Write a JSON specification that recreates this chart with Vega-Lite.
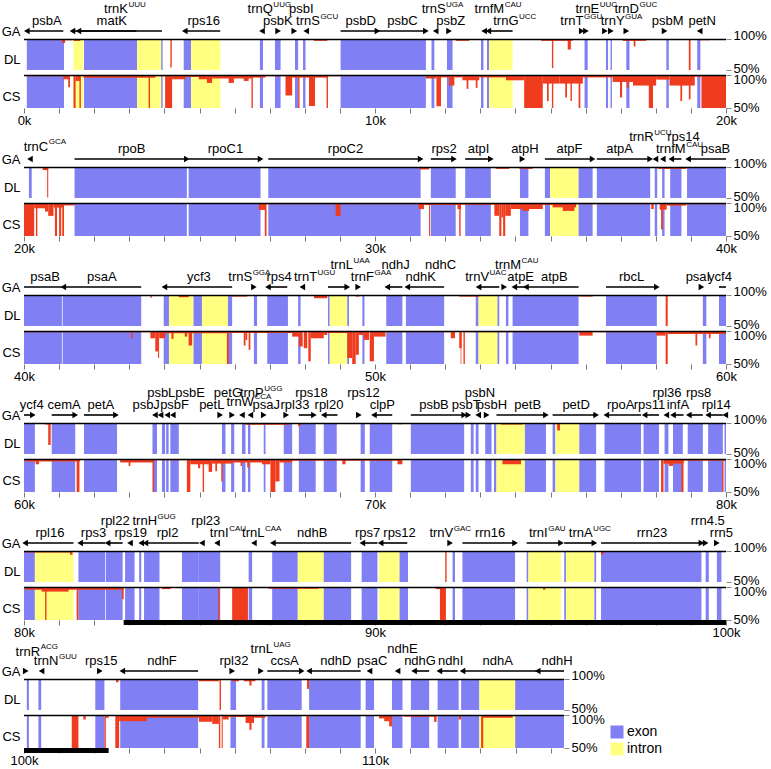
{
"$schema":"https://vega.github.io/schema/vega-lite/v6.json",
"padding":{"left":1,"top":0,"right":0,"bottom":0},
"bounds":"flush","spacing":0,
"resolve":{"scale":{"x":"independent","y":"independent"}},
"config":{"font":"Liberation Sans","view":{"stroke":null},"axis":{"labelColor":"#000","titleColor":"#000","titleFontSize":13,"titleFontWeight":"normal","labelFont":"Liberation Sans","titleFont":"Liberation Sans"},"text":{"color":"#000"},"legend":{"labelColor":"#000"}},
"datasets":{
"trk":[{"r":1,"s":0,"e":20},{"r":2,"s":20,"e":40},{"r":3,"s":40,"e":60},{"r":4,"s":60,"e":80},{"r":5,"s":80,"e":100},{"r":6,"s":100,"e":115.38}],
"ir":[{"r":5,"s":82.84,"e":100},{"r":6,"s":100,"e":102.41}],
"blk":[
{"r":1,"s":0.08,"e":1.14,"t":"exon"},{"r":1,"s":1.41,"e":1.69,"t":"intron"},{"r":1,"s":1.71,"e":3.22,"t":"exon"},{"r":1,"s":3.22,"e":3.91,"t":"intron"},{"r":1,"s":3.91,"e":3.95,"t":"exon"},{"r":1,"s":4.55,"e":4.76,"t":"exon"},{"r":1,"s":4.76,"e":5.59,"t":"intron"},{"r":1,"s":6.72,"e":6.81,"t":"exon"},{"r":1,"s":7.15,"e":7.31,"t":"exon"},{"r":1,"s":7.72,"e":7.81,"t":"exon"},{"r":1,"s":7.95,"e":8.02,"t":"exon"},{"r":1,"s":9.02,"e":11.45,"t":"exon"},{"r":1,"s":11.61,"e":11.69,"t":"exon"},{"r":1,"s":12.05,"e":12.21,"t":"exon"},{"r":1,"s":13.02,"e":13.09,"t":"exon"},{"r":1,"s":13.19,"e":13.25,"t":"exon"},{"r":1,"s":13.25,"e":13.92,"t":"intron"},{"r":1,"s":15.97,"e":16.06,"t":"exon"},{"r":1,"s":16.58,"e":16.64,"t":"exon"},{"r":1,"s":16.71,"e":16.75,"t":"exon"},{"r":1,"s":17.16,"e":17.25,"t":"exon"},{"r":1,"s":18.3,"e":18.37,"t":"exon"},{"r":1,"s":19.18,"e":19.27,"t":"exon"},
{"r":2,"s":20.14,"e":20.22,"t":"exon"},{"r":2,"s":21.44,"e":24.64,"t":"exon"},{"r":2,"s":24.69,"e":26.74,"t":"exon"},{"r":2,"s":26.96,"e":31.3,"t":"exon"},{"r":2,"s":31.59,"e":32.3,"t":"exon"},{"r":2,"s":32.57,"e":33.3,"t":"exon"},{"r":2,"s":34.13,"e":34.37,"t":"exon"},{"r":2,"s":34.84,"e":34.99,"t":"exon"},{"r":2,"s":34.99,"e":35.8,"t":"intron"},{"r":2,"s":35.8,"e":36.2,"t":"exon"},{"r":2,"s":36.32,"e":37.84,"t":"exon"},{"r":2,"s":37.97,"e":38.04,"t":"exon"},{"r":2,"s":38.18,"e":38.25,"t":"exon"},{"r":2,"s":38.41,"e":38.73,"t":"exon"},{"r":2,"s":38.89,"e":40,"t":"exon"},
{"r":3,"s":40,"e":41.08,"t":"exon"},{"r":3,"s":41.1,"e":43.34,"t":"exon"},{"r":3,"s":43.98,"e":44.13,"t":"exon"},{"r":3,"s":44.13,"e":44.83,"t":"intron"},{"r":3,"s":44.83,"e":45.07,"t":"exon"},{"r":3,"s":45.07,"e":45.81,"t":"intron"},{"r":3,"s":45.81,"e":45.93,"t":"exon"},{"r":3,"s":46.55,"e":46.64,"t":"exon"},{"r":3,"s":46.93,"e":47.52,"t":"exon"},{"r":3,"s":47.81,"e":47.88,"t":"exon"},{"r":3,"s":48.66,"e":48.71,"t":"exon"},{"r":3,"s":48.71,"e":49.21,"t":"intron"},{"r":3,"s":49.21,"e":49.26,"t":"exon"},{"r":3,"s":49.64,"e":49.7,"t":"exon"},{"r":3,"s":50.32,"e":50.78,"t":"exon"},{"r":3,"s":50.88,"e":51.97,"t":"exon"},{"r":3,"s":52.87,"e":52.95,"t":"exon"},{"r":3,"s":52.95,"e":53.49,"t":"intron"},{"r":3,"s":53.49,"e":53.54,"t":"exon"},{"r":3,"s":53.73,"e":53.8,"t":"exon"},{"r":3,"s":53.92,"e":55.8,"t":"exon"},{"r":3,"s":56.58,"e":58.03,"t":"exon"},{"r":3,"s":59.34,"e":59.44,"t":"exon"},{"r":3,"s":59.8,"e":60,"t":"exon"},
{"r":4,"s":60,"e":60.31,"t":"exon"},{"r":4,"s":60.79,"e":61.46,"t":"exon"},{"r":4,"s":61.71,"e":62.65,"t":"exon"},{"r":4,"s":63.66,"e":63.79,"t":"exon"},{"r":4,"s":63.93,"e":64.02,"t":"exon"},{"r":4,"s":64.05,"e":64.12,"t":"exon"},{"r":4,"s":64.17,"e":64.41,"t":"exon"},{"r":4,"s":65.64,"e":65.74,"t":"exon"},{"r":4,"s":65.9,"e":65.99,"t":"exon"},{"r":4,"s":66.21,"e":66.31,"t":"exon"},{"r":4,"s":66.38,"e":66.45,"t":"exon"},{"r":4,"s":66.83,"e":66.88,"t":"exon"},{"r":4,"s":67.4,"e":67.64,"t":"exon"},{"r":4,"s":67.83,"e":68.31,"t":"exon"},{"r":4,"s":68.54,"e":68.91,"t":"exon"},{"r":4,"s":69.59,"e":69.71,"t":"exon"},{"r":4,"s":69.85,"e":70.49,"t":"exon"},{"r":4,"s":71.02,"e":72.54,"t":"exon"},{"r":4,"s":72.73,"e":72.81,"t":"exon"},{"r":4,"s":72.87,"e":72.95,"t":"exon"},{"r":4,"s":73.14,"e":73.32,"t":"exon"},{"r":4,"s":73.39,"e":73.46,"t":"exon"},{"r":4,"s":73.46,"e":74.27,"t":"intron"},{"r":4,"s":74.27,"e":74.87,"t":"exon"},{"r":4,"s":75.06,"e":75.14,"t":"exon"},{"r":4,"s":75.14,"e":75.82,"t":"intron"},{"r":4,"s":75.82,"e":76.3,"t":"exon"},{"r":4,"s":76.54,"e":77.58,"t":"exon"},{"r":4,"s":77.65,"e":78.09,"t":"exon"},{"r":4,"s":78.25,"e":78.36,"t":"exon"},{"r":4,"s":78.49,"e":78.77,"t":"exon"},{"r":4,"s":78.91,"e":79.34,"t":"exon"},{"r":4,"s":79.49,"e":79.91,"t":"exon"},{"r":4,"s":79.96,"e":80,"t":"exon"},
{"r":5,"s":80,"e":80.31,"t":"exon"},{"r":5,"s":80.31,"e":81.41,"t":"intron"},{"r":5,"s":81.55,"e":82.31,"t":"exon"},{"r":5,"s":82.33,"e":82.81,"t":"exon"},{"r":5,"s":82.88,"e":83.15,"t":"exon"},{"r":5,"s":83.28,"e":83.34,"t":"exon"},{"r":5,"s":83.42,"e":83.86,"t":"exon"},{"r":5,"s":84.5,"e":84.98,"t":"exon"},{"r":5,"s":84.98,"e":85.59,"t":"exon"},{"r":5,"s":86.4,"e":86.5,"t":"exon"},{"r":5,"s":87.07,"e":87.8,"t":"exon"},{"r":5,"s":87.8,"e":88.54,"t":"intron"},{"r":5,"s":88.54,"e":89.32,"t":"exon"},{"r":5,"s":89.62,"e":90.07,"t":"exon"},{"r":5,"s":90.11,"e":90.7,"t":"intron"},{"r":5,"s":90.7,"e":90.94,"t":"exon"},{"r":5,"s":92.21,"e":92.28,"t":"exon"},{"r":5,"s":92.49,"e":93.99,"t":"exon"},{"r":5,"s":94.32,"e":94.37,"t":"exon"},{"r":5,"s":94.37,"e":95.3,"t":"intron"},{"r":5,"s":95.39,"e":95.44,"t":"exon"},{"r":5,"s":95.44,"e":96.25,"t":"intron"},{"r":5,"s":96.25,"e":96.3,"t":"exon"},{"r":5,"s":96.44,"e":99.3,"t":"exon"},{"r":5,"s":99.42,"e":99.51,"t":"exon"},{"r":5,"s":99.74,"e":99.87,"t":"exon"},
{"r":6,"s":100.08,"e":100.14,"t":"exon"},{"r":6,"s":100.41,"e":100.49,"t":"exon"},{"r":6,"s":102.03,"e":102.29,"t":"exon"},{"r":6,"s":102.74,"e":104.96,"t":"exon"},{"r":6,"s":105.88,"e":106.04,"t":"exon"},{"r":6,"s":106.77,"e":106.85,"t":"exon"},{"r":6,"s":106.93,"e":107.91,"t":"exon"},{"r":6,"s":108.12,"e":109.59,"t":"exon"},{"r":6,"s":109.73,"e":109.97,"t":"exon"},{"r":6,"s":110.48,"e":110.78,"t":"exon"},{"r":6,"s":111.02,"e":111.54,"t":"exon"},{"r":6,"s":111.78,"e":112.38,"t":"exon"},{"r":6,"s":112.45,"e":112.97,"t":"exon"},{"r":6,"s":112.97,"e":113.99,"t":"intron"},{"r":6,"s":113.99,"e":115.38,"t":"exon"}
],
"red":[
{"r":1,"k":"DL","s":1.08,"e":1.17,"v":93.6},{"r":1,"k":"DL","s":1.17,"e":1.36,"v":98},{"r":1,"k":"DL","s":1.41,"e":1.6,"v":97},{"r":1,"k":"DL","s":4.17,"e":4.21,"v":54},{"r":1,"k":"DL","s":8.26,"e":8.64,"v":97},{"r":1,"k":"DL","s":12.3,"e":12.68,"v":97},{"r":1,"k":"DL","s":14.73,"e":15.63,"v":97},{"r":1,"k":"DL","s":15.04,"e":15.08,"v":53},{"r":1,"k":"DL","s":15.49,"e":15.58,"v":83},{"r":1,"k":"DL","s":17.06,"e":17.73,"v":97},{"r":1,"k":"DL","s":17.37,"e":17.42,"v":88},{"r":1,"k":"DL","s":18.94,"e":18.99,"v":50},{"r":1,"k":"DL","s":19.25,"e":19.53,"v":98},
{"r":1,"k":"CS","s":0.03,"e":1.12,"v":98},{"r":1,"k":"CS","s":1.12,"e":1.31,"v":93.5},{"r":1,"k":"CS","s":1.26,"e":1.31,"v":81.5},{"r":1,"k":"CS","s":1.41,"e":1.47,"v":50},{"r":1,"k":"CS","s":1.47,"e":1.6,"v":91},{"r":1,"k":"CS","s":1.58,"e":1.62,"v":50},{"r":1,"k":"CS","s":1.69,"e":3.74,"v":96},{"r":1,"k":"CS","s":3.55,"e":3.59,"v":50},{"r":1,"k":"CS","s":3.74,"e":4.02,"v":98},{"r":1,"k":"CS","s":4.02,"e":4.22,"v":50},{"r":1,"k":"CS","s":4.22,"e":4.6,"v":93.5},{"r":1,"k":"CS","s":4.6,"e":4.98,"v":97},{"r":1,"k":"CS","s":4.98,"e":5.21,"v":93.5},{"r":1,"k":"CS","s":5.21,"e":5.36,"v":88},{"r":1,"k":"CS","s":5.36,"e":6.5,"v":94.6},{"r":1,"k":"CS","s":5.83,"e":5.98,"v":88},{"r":1,"k":"CS","s":6.26,"e":6.4,"v":91},{"r":1,"k":"CS","s":6.48,"e":6.52,"v":50},{"r":1,"k":"CS","s":6.5,"e":6.88,"v":96},{"r":1,"k":"CS","s":6.88,"e":7.45,"v":98},{"r":1,"k":"CS","s":7.45,"e":7.64,"v":69},{"r":1,"k":"CS","s":7.64,"e":8.12,"v":96},{"r":1,"k":"CS","s":7.81,"e":7.85,"v":50},{"r":1,"k":"CS","s":8.12,"e":8.29,"v":53},{"r":1,"k":"CS","s":8.29,"e":8.64,"v":96},{"r":1,"k":"CS","s":8.62,"e":8.66,"v":50},{"r":1,"k":"CS","s":8.64,"e":9.02,"v":98},{"r":1,"k":"CS","s":9.02,"e":11.45,"v":99},{"r":1,"k":"CS","s":11.45,"e":11.75,"v":94.7},{"r":1,"k":"CS","s":11.75,"e":11.88,"v":52.6},{"r":1,"k":"CS","s":11.88,"e":12.11,"v":96.3},{"r":1,"k":"CS","s":12.11,"e":12.26,"v":84},{"r":1,"k":"CS","s":12.26,"e":12.49,"v":96.3},{"r":1,"k":"CS","s":12.49,"e":12.97,"v":92},{"r":1,"k":"CS","s":12.61,"e":12.66,"v":79},{"r":1,"k":"CS","s":12.87,"e":12.92,"v":80.5},{"r":1,"k":"CS","s":12.97,"e":13.73,"v":96.3},{"r":1,"k":"CS","s":13.73,"e":14.25,"v":92},{"r":1,"k":"CS","s":14.25,"e":14.78,"v":50},{"r":1,"k":"CS","s":14.78,"e":15.25,"v":87},{"r":1,"k":"CS","s":14.9,"e":14.95,"v":60.5},{"r":1,"k":"CS","s":15.04,"e":15.08,"v":50},{"r":1,"k":"CS","s":15.25,"e":15.92,"v":87},{"r":1,"k":"CS","s":15.42,"e":15.47,"v":66},{"r":1,"k":"CS","s":15.57,"e":15.61,"v":60.5},{"r":1,"k":"CS","s":15.8,"e":15.85,"v":50},{"r":1,"k":"CS","s":15.92,"e":16.77,"v":96.3},{"r":1,"k":"CS","s":16.77,"e":17.35,"v":89.5},{"r":1,"k":"CS","s":16.98,"e":17.04,"v":66},{"r":1,"k":"CS","s":17.17,"e":17.23,"v":80.5},{"r":1,"k":"CS","s":17.35,"e":18.01,"v":84},{"r":1,"k":"CS","s":17.8,"e":17.92,"v":50},{"r":1,"k":"CS","s":18.01,"e":18.39,"v":93},{"r":1,"k":"CS","s":18.39,"e":19.11,"v":84},{"r":1,"k":"CS","s":18.7,"e":18.75,"v":60.5},{"r":1,"k":"CS","s":18.94,"e":18.99,"v":63},{"r":1,"k":"CS","s":19.11,"e":19.3,"v":97.4},{"r":1,"k":"CS","s":19.3,"e":20,"v":50},
{"r":2,"k":"DL","s":20.53,"e":20.69,"v":95},{"r":2,"k":"DL","s":20.66,"e":20.69,"v":51},{"r":2,"k":"DL","s":31.26,"e":31.54,"v":96},{"r":2,"k":"DL","s":33.44,"e":33.82,"v":97},{"r":2,"k":"DL","s":34.11,"e":34.49,"v":97},{"r":2,"k":"DL","s":38.06,"e":38.87,"v":97},
{"r":2,"k":"CS","s":20,"e":20.29,"v":50},{"r":2,"k":"CS","s":20.29,"e":20.6,"v":92},{"r":2,"k":"CS","s":20.34,"e":20.38,"v":50},{"r":2,"k":"CS","s":20.6,"e":20.69,"v":87},{"r":2,"k":"CS","s":20.69,"e":20.84,"v":80.5},{"r":2,"k":"CS","s":20.84,"e":21.14,"v":93},{"r":2,"k":"CS","s":20.88,"e":20.94,"v":50},{"r":2,"k":"CS","s":21,"e":21.06,"v":50},{"r":2,"k":"CS","s":21.09,"e":21.14,"v":50},{"r":2,"k":"CS","s":21.14,"e":21.44,"v":96.3},{"r":2,"k":"CS","s":21.44,"e":26.69,"v":98.4},{"r":2,"k":"CS","s":26.69,"e":26.88,"v":89.5},{"r":2,"k":"CS","s":26.86,"e":26.91,"v":50},{"r":2,"k":"CS","s":26.88,"e":31.24,"v":98},{"r":2,"k":"CS","s":28.88,"e":29.02,"v":80.5},{"r":2,"k":"CS","s":31.24,"e":31.4,"v":90.8},{"r":2,"k":"CS","s":31.4,"e":32.35,"v":97},{"r":2,"k":"CS","s":31.54,"e":31.57,"v":50},{"r":2,"k":"CS","s":32.35,"e":32.45,"v":90.8},{"r":2,"k":"CS","s":32.4,"e":32.44,"v":50},{"r":2,"k":"CS","s":32.45,"e":33.4,"v":97.4},{"r":2,"k":"CS","s":33.4,"e":33.54,"v":80.6},{"r":2,"k":"CS","s":33.54,"e":33.6,"v":50},{"r":2,"k":"CS","s":33.6,"e":33.65,"v":78},{"r":2,"k":"CS","s":33.65,"e":33.71,"v":50},{"r":2,"k":"CS","s":33.71,"e":33.87,"v":80.6},{"r":2,"k":"CS","s":33.87,"e":34.78,"v":90.8},{"r":2,"k":"CS","s":34.2,"e":34.39,"v":88},{"r":2,"k":"CS","s":34.78,"e":35.06,"v":97},{"r":2,"k":"CS","s":35.06,"e":35.73,"v":93.4},{"r":2,"k":"CS","s":35.35,"e":35.68,"v":88},{"r":2,"k":"CS","s":35.73,"e":37.87,"v":98},{"r":2,"k":"CS","s":37.87,"e":37.94,"v":90.8},{"r":2,"k":"CS","s":38.11,"e":38.31,"v":89.8},{"r":2,"k":"CS","s":38.15,"e":38.2,"v":60},{"r":2,"k":"CS","s":38.31,"e":38.87,"v":96},{"r":2,"k":"CS","s":38.87,"e":40,"v":98},
{"r":3,"k":"DL","s":43.6,"e":43.64,"v":95.4},{"r":3,"k":"DL","s":44.41,"e":44.69,"v":96.4},{"r":3,"k":"DL","s":45.93,"e":46.36,"v":97.4},{"r":3,"k":"DL","s":48.26,"e":48.64,"v":94.8},{"r":3,"k":"DL","s":49.45,"e":49.56,"v":97.4},{"r":3,"k":"DL","s":52.4,"e":52.97,"v":97.4},{"r":3,"k":"DL","s":55.82,"e":56.2,"v":97.4},{"r":3,"k":"DL","s":58.28,"e":58.34,"v":50},
{"r":3,"k":"CS","s":40,"e":43.6,"v":98},{"r":3,"k":"CS","s":43.05,"e":43.09,"v":89},{"r":3,"k":"CS","s":43.6,"e":43.74,"v":89},{"r":3,"k":"CS","s":43.74,"e":43.82,"v":69},{"r":3,"k":"CS","s":43.82,"e":43.85,"v":59},{"r":3,"k":"CS","s":43.85,"e":44.02,"v":89},{"r":3,"k":"CS","s":44.02,"e":45.78,"v":96.5},{"r":3,"k":"CS","s":44.2,"e":44.26,"v":88},{"r":3,"k":"CS","s":44.58,"e":44.65,"v":91.5},{"r":3,"k":"CS","s":44.69,"e":44.79,"v":78},{"r":3,"k":"CS","s":45.78,"e":45.83,"v":50},{"r":3,"k":"CS","s":45.83,"e":47.64,"v":97},{"r":3,"k":"CS","s":46.26,"e":46.31,"v":78},{"r":3,"k":"CS","s":46.31,"e":46.36,"v":86.5},{"r":3,"k":"CS","s":46.4,"e":46.45,"v":71.5},{"r":3,"k":"CS","s":47.64,"e":47.83,"v":91.5},{"r":3,"k":"CS","s":47.83,"e":47.94,"v":76.5},{"r":3,"k":"CS","s":47.97,"e":48.07,"v":74},{"r":3,"k":"CS","s":48.1,"e":48.17,"v":54},{"r":3,"k":"CS","s":48.17,"e":48.54,"v":89},{"r":3,"k":"CS","s":48.54,"e":48.64,"v":94},{"r":3,"k":"CS","s":48.64,"e":49.21,"v":97},{"r":3,"k":"CS","s":49.21,"e":49.35,"v":59},{"r":3,"k":"CS","s":49.35,"e":49.45,"v":50},{"r":3,"k":"CS","s":49.45,"e":49.54,"v":64},{"r":3,"k":"CS","s":49.54,"e":49.68,"v":94},{"r":3,"k":"CS","s":49.68,"e":49.83,"v":86.5},{"r":3,"k":"CS","s":49.85,"e":49.97,"v":54},{"r":3,"k":"CS","s":49.97,"e":50.3,"v":91.5},{"r":3,"k":"CS","s":50.3,"e":52.16,"v":98},{"r":3,"k":"CS","s":52.16,"e":52.28,"v":89},{"r":3,"k":"CS","s":52.4,"e":52.47,"v":74},{"r":3,"k":"CS","s":52.44,"e":52.46,"v":50},{"r":3,"k":"CS","s":52.52,"e":52.56,"v":50},{"r":3,"k":"CS","s":52.56,"e":55.82,"v":98},{"r":3,"k":"CS","s":55.82,"e":56.2,"v":93},{"r":3,"k":"CS","s":56.2,"e":58.01,"v":98},{"r":3,"k":"CS","s":58.01,"e":58.28,"v":93},{"r":3,"k":"CS","s":58.28,"e":58.34,"v":50},{"r":3,"k":"CS","s":58.34,"e":60,"v":95.5},{"r":3,"k":"CS","s":59.13,"e":59.18,"v":78},{"r":3,"k":"CS","s":59.51,"e":59.56,"v":89},
{"r":4,"k":"DL","s":60.6,"e":60.69,"v":97.5},{"r":4,"k":"DL","s":60.69,"e":60.76,"v":64.6},{"r":4,"k":"DL","s":66.31,"e":67.55,"v":97},{"r":4,"k":"DL","s":67.81,"e":67.88,"v":95},{"r":4,"k":"DL","s":70.64,"e":70.78,"v":98},{"r":4,"k":"DL","s":73.59,"e":74.2,"v":97.5},{"r":4,"k":"DL","s":75.19,"e":75.27,"v":88},
{"r":4,"k":"CS","s":60.03,"e":61.6,"v":96.3},{"r":4,"k":"CS","s":60.33,"e":60.43,"v":92},{"r":4,"k":"CS","s":61.5,"e":61.58,"v":50},{"r":4,"k":"CS","s":61.6,"e":62.74,"v":98.4},{"r":4,"k":"CS","s":62.74,"e":63.69,"v":94.7},{"r":4,"k":"CS","s":62.98,"e":63.03,"v":89.5},{"r":4,"k":"CS","s":63.67,"e":63.71,"v":50},{"r":4,"k":"CS","s":63.69,"e":64.64,"v":98},{"r":4,"k":"CS","s":64.64,"e":64.74,"v":50},{"r":4,"k":"CS","s":64.74,"e":65.36,"v":92},{"r":4,"k":"CS","s":64.96,"e":65.02,"v":86},{"r":4,"k":"CS","s":65.09,"e":65.13,"v":50},{"r":4,"k":"CS","s":65.26,"e":65.36,"v":80.5},{"r":4,"k":"CS","s":65.36,"e":65.93,"v":93},{"r":4,"k":"CS","s":65.45,"e":65.5,"v":81.6},{"r":4,"k":"CS","s":65.62,"e":65.66,"v":66},{"r":4,"k":"CS","s":65.93,"e":66.78,"v":94.7},{"r":4,"k":"CS","s":66.17,"e":66.21,"v":89.5},{"r":4,"k":"CS","s":66.36,"e":66.42,"v":87},{"r":4,"k":"CS","s":66.78,"e":67.02,"v":92},{"r":4,"k":"CS","s":67.02,"e":67.16,"v":50},{"r":4,"k":"CS","s":67.16,"e":67.28,"v":66},{"r":4,"k":"CS","s":67.28,"e":67.64,"v":94.7},{"r":4,"k":"CS","s":67.64,"e":70.64,"v":97.4},{"r":4,"k":"CS","s":69.07,"e":69.16,"v":92},{"r":4,"k":"CS","s":70.64,"e":70.78,"v":92},{"r":4,"k":"CS","s":70.78,"e":73.63,"v":98.4},{"r":4,"k":"CS","s":73.63,"e":74.16,"v":92},{"r":4,"k":"CS","s":74.16,"e":78.15,"v":98.4},{"r":4,"k":"CS","s":78.15,"e":78.22,"v":50},{"r":4,"k":"CS","s":78.22,"e":78.79,"v":93},{"r":4,"k":"CS","s":78.37,"e":78.49,"v":89.5},{"r":4,"k":"CS","s":78.73,"e":78.79,"v":50},{"r":4,"k":"CS","s":78.79,"e":80,"v":97.4},{"r":4,"k":"CS","s":79.89,"e":79.93,"v":50},
{"r":5,"k":"DL","s":80.03,"e":81.36,"v":97.4},{"r":5,"k":"DL","s":81.31,"e":81.38,"v":94},{"r":5,"k":"DL","s":92,"e":92.04,"v":50},{"r":5,"k":"DL","s":96.44,"e":96.51,"v":94},
{"r":5,"k":"CS","s":80.03,"e":82.84,"v":95.8},{"r":5,"k":"CS","s":80.5,"e":81.27,"v":93},{"r":5,"k":"CS","s":80.6,"e":80.64,"v":50},{"r":5,"k":"CS","s":81.5,"e":81.55,"v":50},{"r":5,"k":"CS","s":82.79,"e":82.84,"v":81.6},{"r":5,"k":"CS","s":83.93,"e":84.17,"v":96.8},{"r":5,"k":"CS","s":85.53,"e":85.57,"v":50},{"r":5,"k":"CS","s":85.93,"e":86.38,"v":50},{"r":5,"k":"CS","s":86.97,"e":88.4,"v":97.4},{"r":5,"k":"CS","s":91.73,"e":91.85,"v":96.8},{"r":5,"k":"CS","s":91.85,"e":92.02,"v":50},{"r":5,"k":"CS","s":94.79,"e":94.85,"v":95.8},
{"r":6,"k":"DL","s":102.62,"e":102.69,"v":94.7},{"r":6,"k":"DL","s":104.98,"e":105.55,"v":96.3},{"r":6,"k":"DL","s":105.57,"e":105.61,"v":50},{"r":6,"k":"DL","s":105.93,"e":106.12,"v":96.3},{"r":6,"k":"DL","s":106.26,"e":106.59,"v":96.3},{"r":6,"k":"DL","s":106.42,"e":106.48,"v":89.5},{"r":6,"k":"DL","s":108.06,"e":108.12,"v":84},{"r":6,"k":"DL","s":111.75,"e":112.4,"v":99},
{"r":6,"k":"CS","s":101.36,"e":101.55,"v":50},{"r":6,"k":"CS","s":101.69,"e":101.76,"v":93.2},{"r":6,"k":"CS","s":102.29,"e":102.33,"v":50},{"r":6,"k":"CS","s":102.33,"e":102.41,"v":95.8},{"r":6,"k":"CS","s":102.6,"e":102.71,"v":50},{"r":6,"k":"CS","s":102.71,"e":103.5,"v":90.6},{"r":6,"k":"CS","s":103.5,"e":104.98,"v":95.8},{"r":6,"k":"CS","s":104.98,"e":105.36,"v":89.6},{"r":6,"k":"CS","s":105.36,"e":105.55,"v":86.5},{"r":6,"k":"CS","s":105.55,"e":105.59,"v":50},{"r":6,"k":"CS","s":105.63,"e":105.66,"v":50},{"r":6,"k":"CS","s":105.66,"e":105.83,"v":93.2},{"r":6,"k":"CS","s":105.83,"e":106.31,"v":96.9},{"r":6,"k":"CS","s":106.31,"e":106.55,"v":88},{"r":6,"k":"CS","s":106.42,"e":106.48,"v":77.6},{"r":6,"k":"CS","s":106.55,"e":106.88,"v":95.8},{"r":6,"k":"CS","s":108.04,"e":108.12,"v":50},{"r":6,"k":"CS","s":110.11,"e":110.49,"v":94.8},{"r":6,"k":"CS","s":110.26,"e":110.4,"v":90.6},{"r":6,"k":"CS","s":110.4,"e":110.48,"v":82.8},{"r":6,"k":"CS","s":110.83,"e":111.73,"v":97.4},{"r":6,"k":"CS","s":111.68,"e":111.75,"v":89.6},{"r":6,"k":"CS","s":112.38,"e":112.45,"v":93.2},{"r":6,"k":"CS","s":113.02,"e":113.08,"v":50},{"r":6,"k":"CS","s":113.06,"e":113.92,"v":95.8},{"r":6,"k":"CS","s":113.92,"e":115.38,"v":98.4}
],
"arr":[
{"r":1,"s":0.08,"e":1.12,"d":"L"},{"r":1,"s":1.38,"e":3.93,"d":"L"},{"r":1,"s":1.55,"e":3.2,"d":"L"},{"r":1,"s":4.58,"e":5.59,"d":"L"},{"r":1,"s":6.78,"e":6.78,"d":"L"},{"r":1,"s":7.24,"e":7.24,"d":"R"},{"r":1,"s":7.7,"e":7.7,"d":"R"},{"r":1,"s":8.04,"e":8.04,"d":"L"},{"r":1,"s":9.02,"e":10.07,"d":"R"},{"r":1,"s":10.07,"e":11.45,"d":"R"},{"r":1,"s":11.73,"e":11.73,"d":"L"},{"r":1,"s":12.11,"e":12.11,"d":"R"},{"r":1,"s":13.11,"e":13.11,"d":"L"},{"r":1,"s":13.23,"e":13.92,"d":"L"},{"r":1,"s":15.89,"e":15.89,"d":"R"},{"r":1,"s":16.01,"e":16.01,"d":"R"},{"r":1,"s":16.55,"e":16.55,"d":"R"},{"r":1,"s":16.72,"e":16.72,"d":"R"},{"r":1,"s":17.16,"e":17.16,"d":"R"},{"r":1,"s":18.25,"e":18.25,"d":"R"},{"r":1,"s":19.25,"e":19.25,"d":"L"},
{"r":2,"s":20.17,"e":20.17,"d":"L"},{"r":2,"s":21.44,"e":24.64,"d":"R"},{"r":2,"s":24.69,"e":26.74,"d":"R"},{"r":2,"s":26.96,"e":31.3,"d":"R"},{"r":2,"s":31.59,"e":32.25,"d":"R"},{"r":2,"s":32.57,"e":33.3,"d":"R"},{"r":2,"s":34.2,"e":34.2,"d":"R"},{"r":2,"s":34.84,"e":36.2,"d":"R"},{"r":2,"s":36.32,"e":37.84,"d":"R"},{"r":2,"s":37.99,"e":37.99,"d":"L"},{"r":2,"s":38.2,"e":38.2,"d":"L"},{"r":2,"s":38.44,"e":38.73,"d":"L"},{"r":2,"s":38.92,"e":40,"d":"L"},
{"r":3,"s":40,"e":41.08,"d":"N"},{"r":3,"s":41.12,"e":43.34,"d":"L"},{"r":3,"s":44,"e":45.93,"d":"L"},{"r":3,"s":46.55,"e":46.55,"d":"R"},{"r":3,"s":46.95,"e":47.5,"d":"L"},{"r":3,"s":47.93,"e":47.93,"d":"L"},{"r":3,"s":48.66,"e":49.21,"d":"R"},{"r":3,"s":49.52,"e":49.52,"d":"R"},{"r":3,"s":50.35,"e":50.78,"d":"L"},{"r":3,"s":50.92,"e":51.97,"d":"L"},{"r":3,"s":52.95,"e":53.54,"d":"L"},{"r":3,"s":53.68,"e":53.68,"d":"R"},{"r":3,"s":53.97,"e":54.3,"d":"L"},{"r":3,"s":54.3,"e":55.8,"d":"L"},{"r":3,"s":56.58,"e":58.03,"d":"R"},{"r":3,"s":59.3,"e":59.3,"d":"R"},{"r":3,"s":59.8,"e":60,"d":"N"},
{"r":4,"s":60,"e":60.25,"d":"R"},{"r":4,"s":60.79,"e":61.46,"d":"R"},{"r":4,"s":61.71,"e":62.62,"d":"R"},{"r":4,"s":63.73,"e":63.73,"d":"L"},{"r":4,"s":63.89,"e":63.89,"d":"L"},{"r":4,"s":64.08,"e":64.08,"d":"L"},{"r":4,"s":64.24,"e":64.24,"d":"L"},{"r":4,"s":65.59,"e":65.59,"d":"R"},{"r":4,"s":65.93,"e":65.93,"d":"R"},{"r":4,"s":66.21,"e":66.21,"d":"L"},{"r":4,"s":66.45,"e":66.45,"d":"L"},{"r":4,"s":66.83,"e":66.83,"d":"R"},{"r":4,"s":67.47,"e":67.47,"d":"R"},{"r":4,"s":67.83,"e":68.26,"d":"R"},{"r":4,"s":68.54,"e":68.93,"d":"L"},{"r":4,"s":69.54,"e":69.54,"d":"R"},{"r":4,"s":69.97,"e":70.49,"d":"L"},{"r":4,"s":71.02,"e":72.54,"d":"R"},{"r":4,"s":72.66,"e":72.66,"d":"R"},{"r":4,"s":72.94,"e":72.94,"d":"L"},{"r":4,"s":73.18,"e":73.18,"d":"R"},{"r":4,"s":73.46,"e":74.87,"d":"R"},{"r":4,"s":75.06,"e":76.3,"d":"R"},{"r":4,"s":76.59,"e":77.58,"d":"L"},{"r":4,"s":77.68,"e":78.09,"d":"L"},{"r":4,"s":78.3,"e":78.3,"d":"L"},{"r":4,"s":78.49,"e":78.79,"d":"L"},{"r":4,"s":78.94,"e":79.34,"d":"L"},{"r":4,"s":79.49,"e":79.91,"d":"L"},{"r":4,"s":79.98,"e":79.98,"d":"L"},
{"r":5,"s":80.03,"e":81.41,"d":"L"},{"r":5,"s":81.6,"e":82.31,"d":"L"},{"r":5,"s":82.38,"e":82.81,"d":"L"},{"r":5,"s":83.02,"e":83.02,"d":"L"},{"r":5,"s":83.34,"e":83.34,"d":"L"},{"r":5,"s":83.46,"e":84.98,"d":"L"},{"r":5,"s":85.07,"e":85.07,"d":"L"},{"r":5,"s":85.5,"e":85.5,"d":"L"},{"r":5,"s":86.55,"e":86.55,"d":"L"},{"r":5,"s":87.09,"e":89.32,"d":"L"},{"r":5,"s":89.64,"e":90.07,"d":"L"},{"r":5,"s":90.16,"e":90.92,"d":"L"},{"r":5,"s":92.14,"e":92.14,"d":"R"},{"r":5,"s":92.49,"e":93.99,"d":"R"},{"r":5,"s":94.32,"e":95.3,"d":"R"},{"r":5,"s":95.39,"e":96.25,"d":"R"},{"r":5,"s":96.44,"e":99.3,"d":"R"},{"r":5,"s":99.42,"e":99.42,"d":"R"},{"r":5,"s":99.74,"e":99.74,"d":"R"},
{"r":6,"s":100.05,"e":100.05,"d":"R"},{"r":6,"s":100.5,"e":100.5,"d":"L"},{"r":6,"s":102.16,"e":102.16,"d":"R"},{"r":6,"s":102.8,"e":104.96,"d":"L"},{"r":6,"s":105.93,"e":105.93,"d":"R"},{"r":6,"s":106.75,"e":106.75,"d":"R"},{"r":6,"s":106.93,"e":107.91,"d":"R"},{"r":6,"s":108.12,"e":109.59,"d":"L"},{"r":6,"s":109.84,"e":109.84,"d":"L"},{"r":6,"s":110.64,"e":110.64,"d":"L"},{"r":6,"s":111.11,"e":111.54,"d":"L"},{"r":6,"s":111.83,"e":112.35,"d":"L"},{"r":6,"s":112.49,"e":114.63,"d":"L"},{"r":6,"s":114.63,"e":115.38,"d":"L"}
],
"lab":[
{"r":1,"n":"psbA","p":"","x":0.65,"t":1},{"r":1,"n":"trnK","p":"UUU","x":2.96,"t":2},{"r":1,"n":"matK","p":"","x":2.5,"t":1},{"r":1,"n":"rps16","p":"","x":5.12,"t":1},{"r":1,"n":"trnQ","p":"UUG","x":7.09,"t":2},{"r":1,"n":"psbK","p":"","x":7.23,"t":1},{"r":1,"n":"psbI","p":"","x":7.9,"t":2},{"r":1,"n":"trnS","p":"GCU","x":8.43,"t":1},{"r":1,"n":"psbD","p":"","x":9.59,"t":1},{"r":1,"n":"psbC","p":"","x":10.78,"t":1},{"r":1,"n":"trnS","p":"UGA","x":12.01,"t":2},{"r":1,"n":"psbZ","p":"","x":12.16,"t":1},{"r":1,"n":"trnfM","p":"CAU","x":13.68,"t":2},{"r":1,"n":"trnG","p":"UCC","x":14.09,"t":1},{"r":1,"n":"trnT","p":"GGU","x":15.94,"t":1},{"r":1,"n":"trnE","p":"UUC","x":16.39,"t":2},{"r":1,"n":"trnY","p":"GUA","x":17.11,"t":1},{"r":1,"n":"trnD","p":"GUC","x":17.52,"t":2},{"r":1,"n":"psbM","p":"","x":18.34,"t":1},{"r":1,"n":"petN","p":"","x":19.32,"t":1},
{"r":2,"n":"trnC","p":"GCA","x":20.69,"t":1.2},{"r":2,"n":"rpoB","p":"","x":23.07,"t":1},{"r":2,"n":"rpoC1","p":"","x":25.74,"t":1},{"r":2,"n":"rpoC2","p":"","x":29.16,"t":1},{"r":2,"n":"rps2","p":"","x":31.97,"t":1},{"r":2,"n":"atpI","p":"","x":32.95,"t":1},{"r":2,"n":"atpH","p":"","x":34.27,"t":1},{"r":2,"n":"atpF","p":"","x":35.54,"t":1},{"r":2,"n":"atpA","p":"","x":36.97,"t":1},{"r":2,"n":"trnR","p":"UCU","x":37.94,"t":2},{"r":2,"n":"trnfM","p":"CAU","x":38.85,"t":1},{"r":2,"n":"rps14","p":"","x":38.79,"t":2},{"r":2,"n":"psaB","p":"","x":39.7,"t":1},
{"r":3,"n":"psaB","p":"","x":40.6,"t":1},{"r":3,"n":"psaA","p":"","x":42.22,"t":1},{"r":3,"n":"ycf3","p":"","x":44.98,"t":1},{"r":3,"n":"trnS","p":"GGA","x":46.5,"t":1},{"r":3,"n":"rps4","p":"","x":47.27,"t":1},{"r":3,"n":"trnT","p":"UGU","x":48.35,"t":1},{"r":3,"n":"trnL","p":"UAA","x":49.37,"t":2},{"r":3,"n":"trnF","p":"GAA","x":49.97,"t":1},{"r":3,"n":"ndhJ","p":"","x":50.59,"t":2},{"r":3,"n":"ndhK","p":"","x":51.3,"t":1},{"r":3,"n":"ndhC","p":"","x":51.87,"t":2},{"r":3,"n":"trnV","p":"UAC","x":53.25,"t":1},{"r":3,"n":"trnM","p":"CAU","x":54.16,"t":2},{"r":3,"n":"atpE","p":"","x":54.15,"t":1},{"r":3,"n":"atpB","p":"","x":55.11,"t":1},{"r":3,"n":"rbcL","p":"","x":57.31,"t":1},{"r":3,"n":"psaI","p":"","x":59.2,"t":1},{"r":3,"n":"ycf4","p":"","x":59.83,"t":1},
{"r":4,"n":"ycf4","p":"","x":60.22,"t":1},{"r":4,"n":"cemA","p":"","x":61.14,"t":1},{"r":4,"n":"petA","p":"","x":62.19,"t":1},{"r":4,"n":"psbJ","p":"","x":63.48,"t":1},{"r":4,"n":"psbF","p":"","x":64.29,"t":1},{"r":4,"n":"psbL","p":"","x":63.91,"t":2},{"r":4,"n":"psbE","p":"","x":64.73,"t":2},{"r":4,"n":"petL","p":"","x":65.35,"t":1},{"r":4,"n":"petG","p":"","x":65.81,"t":2},{"r":4,"n":"trnW","p":"CCA","x":66.55,"t":1.3},{"r":4,"n":"trnP","p":"UGG","x":66.83,"t":2},{"r":4,"n":"psaJ","p":"","x":66.9,"t":1},{"r":4,"n":"rpl33","p":"","x":67.72,"t":1},{"r":4,"n":"rps18","p":"","x":68.19,"t":2},{"r":4,"n":"rpl20","p":"","x":68.69,"t":1},{"r":4,"n":"rps12","p":"","x":69.67,"t":2},{"r":4,"n":"clpP","p":"","x":70.21,"t":1},{"r":4,"n":"psbB","p":"","x":71.68,"t":1},{"r":4,"n":"psbT","p":"","x":72.6,"t":1},{"r":4,"n":"psbN","p":"","x":72.99,"t":2},{"r":4,"n":"psbH","p":"","x":73.33,"t":1},{"r":4,"n":"petB","p":"","x":74.35,"t":1},{"r":4,"n":"petD","p":"","x":75.73,"t":1},{"r":4,"n":"rpoA","p":"","x":77,"t":1},{"r":4,"n":"rps11","p":"","x":77.82,"t":1},{"r":4,"n":"rpl36","p":"","x":78.32,"t":2},{"r":4,"n":"infA","p":"","x":78.63,"t":1},{"r":4,"n":"rps8","p":"","x":79.22,"t":2},{"r":4,"n":"rpl14","p":"","x":79.72,"t":1},
{"r":5,"n":"rpl16","p":"","x":80.74,"t":1},{"r":5,"n":"rps3","p":"","x":81.98,"t":1},{"r":5,"n":"rpl22","p":"","x":82.6,"t":2},{"r":5,"n":"rps19","p":"","x":83.04,"t":1},{"r":5,"n":"trnH","p":"GUG","x":83.79,"t":2},{"r":5,"n":"rpl2","p":"","x":84.09,"t":1},{"r":5,"n":"rpl23","p":"","x":85.18,"t":2},{"r":5,"n":"trnI","p":"CAU","x":85.83,"t":1},{"r":5,"n":"trnL","p":"CAA","x":86.85,"t":1},{"r":5,"n":"ndhB","p":"","x":88.21,"t":1},{"r":5,"n":"rps7","p":"","x":89.79,"t":1},{"r":5,"n":"rps12","p":"","x":90.7,"t":1},{"r":5,"n":"trnV","p":"GAC","x":92.23,"t":1},{"r":5,"n":"rrn16","p":"","x":93.28,"t":1},{"r":5,"n":"trnI","p":"GAU","x":94.92,"t":1},{"r":5,"n":"trnA","p":"UGC","x":96.2,"t":1},{"r":5,"n":"rrn23","p":"","x":97.89,"t":1},{"r":5,"n":"rrn4.5","p":"","x":99.48,"t":2},{"r":5,"n":"rrn5","p":"","x":99.87,"t":1},
{"r":6,"n":"trnR","p":"ACG","x":100.46,"t":1.8},{"r":6,"n":"trnN","p":"GUU","x":100.98,"t":1},{"r":6,"n":"rps15","p":"","x":102.2,"t":1},{"r":6,"n":"ndhF","p":"","x":103.93,"t":1},{"r":6,"n":"rpl32","p":"","x":105.98,"t":1},{"r":6,"n":"trnL","p":"UAG","x":107.09,"t":2},{"r":6,"n":"ccsA","p":"","x":107.42,"t":1},{"r":6,"n":"ndhD","p":"","x":108.88,"t":1},{"r":6,"n":"psaC","p":"","x":109.92,"t":1},{"r":6,"n":"ndhE","p":"","x":110.78,"t":2},{"r":6,"n":"ndhG","p":"","x":111.28,"t":1},{"r":6,"n":"ndhI","p":"","x":112.15,"t":1},{"r":6,"n":"ndhA","p":"","x":113.49,"t":1},{"r":6,"n":"ndhH","p":"","x":115.18,"t":1}
]
},
"vconcat":[
{"width":702,"height":38,"layer":[
{"data":{"name":"arr"},"transform":[{"filter":"datum.r==1"}],"mark":{"type":"rule","strokeWidth":1.6,"color":"#000"},"encoding":{"x":{"field":"s","type":"quantitative","scale":{"domain":[0,20],"nice":false,"zero":false},"axis":null},"x2":{"field":"e"},"y":{"datum":0,"type":"quantitative","scale":{"domain":[-0.6667,2.5],"nice":false,"zero":false},"axis":{"orient":"left","title":"GA","titleAngle":0,"titleAlign":"right","titleBaseline":"middle","titleX":-4,"titleY":30,"labels":false,"ticks":false,"domain":false,"grid":false}}}},
{"data":{"name":"arr"},"transform":[{"filter":"datum.r==1 && datum.d=='L'"}],"mark":{"type":"point","shape":"triangle-left","filled":true,"color":"#000","size":42,"opacity":1},"encoding":{"x":{"field":"s","type":"quantitative","scale":{"domain":[0,20],"nice":false,"zero":false},"axis":null},"y":{"datum":0,"type":"quantitative","scale":{"domain":[-0.6667,2.5],"nice":false,"zero":false},"axis":null}}},
{"data":{"name":"arr"},"transform":[{"filter":"datum.r==1 && datum.d=='R'"}],"mark":{"type":"point","shape":"triangle-right","filled":true,"color":"#000","size":42,"opacity":1},"encoding":{"x":{"field":"e","type":"quantitative","scale":{"domain":[0,20],"nice":false,"zero":false},"axis":null},"y":{"datum":0,"type":"quantitative","scale":{"domain":[-0.6667,2.5],"nice":false,"zero":false},"axis":null}}},
{"data":{"name":"lab"},"transform":[{"filter":"datum.r==1 && datum.p==''"}],"mark":{"type":"text","fontSize":13,"dy":2.4},"encoding":{"x":{"field":"x","type":"quantitative","scale":{"domain":[0,20],"nice":false,"zero":false},"axis":null},"y":{"field":"t","type":"quantitative","scale":{"domain":[-0.6667,2.5],"nice":false,"zero":false},"axis":null},"text":{"field":"n"}}},
{"data":{"name":"lab"},"transform":[{"filter":"datum.r==1 && datum.p!=''"}],"mark":{"type":"text","fontSize":13,"dy":2.4,"align":"right"},"encoding":{"x":{"field":"x","type":"quantitative","scale":{"domain":[0,20],"nice":false,"zero":false},"axis":null},"y":{"field":"t","type":"quantitative","scale":{"domain":[-0.6667,2.5],"nice":false,"zero":false},"axis":null},"text":{"field":"n"}}},
{"data":{"name":"lab"},"transform":[{"filter":"datum.r==1 && datum.p!=''"}],"mark":{"type":"text","fontSize":8,"dy":-2.3,"dx":0.5,"align":"left"},"encoding":{"x":{"field":"x","type":"quantitative","scale":{"domain":[0,20],"nice":false,"zero":false},"axis":null},"y":{"field":"t","type":"quantitative","scale":{"domain":[-0.6667,2.5],"nice":false,"zero":false},"axis":null},"text":{"field":"p"}}}
],"resolve":{"axis":{"x":"independent","y":"independent"}}},
{"width":702,"height":31,"layer":[
{"data":{"name":"blk"},"transform":[{"filter":"datum.r==1"}],"mark":{"type":"rect"},"encoding":{"x":{"field":"s","type":"quantitative","scale":{"domain":[0,20],"nice":false,"zero":false},"axis":null},"x2":{"field":"e"},"y":{"datum":50,"type":"quantitative","scale":{"domain":[50,100],"nice":false,"zero":false},"axis":{"orient":"right","values":[50,100],"labelExpr":"datum.value + '%'","title":null,"domain":false,"grid":false,"tickSize":5,"tickColor":"#888","labelPadding":2,"labelFontSize":13,"labelBaseline":"alphabetic","labelOffset":{"condition":{"test":"datum.value == 50","value":2.5},"value":0.5}}},"y2":{"datum":100},"color":{"field":"t","type":"nominal","scale":{"domain":["exon","intron"],"range":["#8080f4","#ffff80"]},"title":null}}},
{"data":{"name":"red"},"transform":[{"filter":"datum.r==1 && datum.k=='DL'"}],"mark":{"type":"rect","color":"#f03c1e"},"encoding":{"x":{"field":"s","type":"quantitative","scale":{"domain":[0,20],"nice":false,"zero":false},"axis":null},"x2":{"field":"e"},"y":{"field":"v","type":"quantitative","scale":{"domain":[50,100],"nice":false,"zero":false},"axis":{"orient":"left","title":"DL","titleAngle":0,"titleAlign":"right","titleBaseline":"middle","titleX":-4,"titleY":20,"labels":false,"ticks":false,"domain":false,"grid":false}},"y2":{"datum":100}}},
{"data":{"name":"trk"},"transform":[{"filter":"datum.r==1"}],"mark":{"type":"rule","color":"#000","strokeWidth":1.5},"encoding":{"x":{"field":"s","type":"quantitative","scale":{"domain":[0,20],"nice":false,"zero":false},"axis":null},"x2":{"field":"e"},"y":{"datum":99.3,"type":"quantitative","scale":{"domain":[50,100],"nice":false,"zero":false},"axis":null}}}
],"resolve":{"axis":{"x":"independent","y":"independent"}}},
{"width":702,"height":38,"layer":[
{"data":{"name":"blk"},"transform":[{"filter":"datum.r==1"}],"mark":{"type":"rect"},"encoding":{"x":{"field":"s","type":"quantitative","scale":{"domain":[0,20],"nice":false,"zero":false},"axis":{"values":[0,1,2,3,4,5,6,7,8,9,10,11,12,13,14,15,16,17,18,19,20],"labelExpr":"datum.value % 10 == 0 ? datum.value + 'k' : ''","title":null,"domain":false,"grid":false,"tickSize":5,"tickColor":"#777","labelPadding":1,"labelFontSize":13,"labelOverlap":false,"labelFlush":false,"labelBound":false}},"x2":{"field":"e"},"y":{"datum":50,"type":"quantitative","scale":{"domain":[50,107.58],"nice":false,"zero":false},"axis":{"orient":"right","values":[50,100],"labelExpr":"datum.value + '%'","title":null,"domain":false,"grid":false,"tickSize":5,"tickColor":"#888","labelPadding":2,"labelFontSize":13,"labelBaseline":"middle","labelOffset":{"condition":{"test":"datum.value == 100","value":4.5},"value":-1}}},"y2":{"datum":100},"color":{"field":"t","type":"nominal","scale":{"domain":["exon","intron"],"range":["#8080f4","#ffff80"]},"title":null}}},
{"data":{"name":"red"},"transform":[{"filter":"datum.r==1 && datum.k=='CS'"}],"mark":{"type":"rect","color":"#f03c1e"},"encoding":{"x":{"field":"s","type":"quantitative","scale":{"domain":[0,20],"nice":false,"zero":false},"axis":null},"x2":{"field":"e"},"y":{"field":"v","type":"quantitative","scale":{"domain":[50,107.58],"nice":false,"zero":false},"axis":{"orient":"left","title":"CS","titleAngle":0,"titleAlign":"right","titleBaseline":"middle","titleX":-4,"titleY":26,"labels":false,"ticks":false,"domain":false,"grid":false}},"y2":{"datum":100}}},
{"data":{"name":"trk"},"transform":[{"filter":"datum.r==1"}],"mark":{"type":"rule","color":"#000","strokeWidth":1.5},"encoding":{"x":{"field":"s","type":"quantitative","scale":{"domain":[0,20],"nice":false,"zero":false},"axis":null},"x2":{"field":"e"},"y":{"datum":99.3,"type":"quantitative","scale":{"domain":[50,107.58],"nice":false,"zero":false},"axis":null}}}
],"resolve":{"axis":{"x":"independent","y":"independent"}}},

{"width":702,"height":59,"layer":[
{"data":{"name":"arr"},"transform":[{"filter":"datum.r==2"}],"mark":{"type":"rule","strokeWidth":1.6,"color":"#000"},"encoding":{"x":{"field":"s","type":"quantitative","scale":{"domain":[20,40],"nice":false,"zero":false},"axis":null},"x2":{"field":"e"},"y":{"datum":0,"type":"quantitative","scale":{"domain":[-0.6667,4.25],"nice":false,"zero":false},"axis":{"orient":"left","title":"GA","titleAngle":0,"titleAlign":"right","titleBaseline":"middle","titleX":-4,"titleY":51,"labels":false,"ticks":false,"domain":false,"grid":false}}}},
{"data":{"name":"arr"},"transform":[{"filter":"datum.r==2 && datum.d=='L'"}],"mark":{"type":"point","shape":"triangle-left","filled":true,"color":"#000","size":42,"opacity":1},"encoding":{"x":{"field":"s","type":"quantitative","scale":{"domain":[20,40],"nice":false,"zero":false},"axis":null},"y":{"datum":0,"type":"quantitative","scale":{"domain":[-0.6667,4.25],"nice":false,"zero":false},"axis":null}}},
{"data":{"name":"arr"},"transform":[{"filter":"datum.r==2 && datum.d=='R'"}],"mark":{"type":"point","shape":"triangle-right","filled":true,"color":"#000","size":42,"opacity":1},"encoding":{"x":{"field":"e","type":"quantitative","scale":{"domain":[20,40],"nice":false,"zero":false},"axis":null},"y":{"datum":0,"type":"quantitative","scale":{"domain":[-0.6667,4.25],"nice":false,"zero":false},"axis":null}}},
{"data":{"name":"lab"},"transform":[{"filter":"datum.r==2 && datum.p==''"}],"mark":{"type":"text","fontSize":13,"dy":2.4},"encoding":{"x":{"field":"x","type":"quantitative","scale":{"domain":[20,40],"nice":false,"zero":false},"axis":null},"y":{"field":"t","type":"quantitative","scale":{"domain":[-0.6667,4.25],"nice":false,"zero":false},"axis":null},"text":{"field":"n"}}},
{"data":{"name":"lab"},"transform":[{"filter":"datum.r==2 && datum.p!=''"}],"mark":{"type":"text","fontSize":13,"dy":2.4,"align":"right"},"encoding":{"x":{"field":"x","type":"quantitative","scale":{"domain":[20,40],"nice":false,"zero":false},"axis":null},"y":{"field":"t","type":"quantitative","scale":{"domain":[-0.6667,4.25],"nice":false,"zero":false},"axis":null},"text":{"field":"n"}}},
{"data":{"name":"lab"},"transform":[{"filter":"datum.r==2 && datum.p!=''"}],"mark":{"type":"text","fontSize":8,"dy":-2.3,"dx":0.5,"align":"left"},"encoding":{"x":{"field":"x","type":"quantitative","scale":{"domain":[20,40],"nice":false,"zero":false},"axis":null},"y":{"field":"t","type":"quantitative","scale":{"domain":[-0.6667,4.25],"nice":false,"zero":false},"axis":null},"text":{"field":"p"}}}
],"resolve":{"axis":{"x":"independent","y":"independent"}}},
{"width":702,"height":31,"layer":[
{"data":{"name":"blk"},"transform":[{"filter":"datum.r==2"}],"mark":{"type":"rect"},"encoding":{"x":{"field":"s","type":"quantitative","scale":{"domain":[20,40],"nice":false,"zero":false},"axis":null},"x2":{"field":"e"},"y":{"datum":50,"type":"quantitative","scale":{"domain":[50,100],"nice":false,"zero":false},"axis":{"orient":"right","values":[50,100],"labelExpr":"datum.value + '%'","title":null,"domain":false,"grid":false,"tickSize":5,"tickColor":"#888","labelPadding":2,"labelFontSize":13,"labelBaseline":"alphabetic","labelOffset":{"condition":{"test":"datum.value == 50","value":2.5},"value":0.5}}},"y2":{"datum":100},"color":{"field":"t","type":"nominal","scale":{"domain":["exon","intron"],"range":["#8080f4","#ffff80"]},"title":null}}},
{"data":{"name":"red"},"transform":[{"filter":"datum.r==2 && datum.k=='DL'"}],"mark":{"type":"rect","color":"#f03c1e"},"encoding":{"x":{"field":"s","type":"quantitative","scale":{"domain":[20,40],"nice":false,"zero":false},"axis":null},"x2":{"field":"e"},"y":{"field":"v","type":"quantitative","scale":{"domain":[50,100],"nice":false,"zero":false},"axis":{"orient":"left","title":"DL","titleAngle":0,"titleAlign":"right","titleBaseline":"middle","titleX":-4,"titleY":20,"labels":false,"ticks":false,"domain":false,"grid":false}},"y2":{"datum":100}}},
{"data":{"name":"trk"},"transform":[{"filter":"datum.r==2"}],"mark":{"type":"rule","color":"#000","strokeWidth":1.5},"encoding":{"x":{"field":"s","type":"quantitative","scale":{"domain":[20,40],"nice":false,"zero":false},"axis":null},"x2":{"field":"e"},"y":{"datum":99.3,"type":"quantitative","scale":{"domain":[50,100],"nice":false,"zero":false},"axis":null}}}
],"resolve":{"axis":{"x":"independent","y":"independent"}}},
{"width":702,"height":38,"layer":[
{"data":{"name":"blk"},"transform":[{"filter":"datum.r==2"}],"mark":{"type":"rect"},"encoding":{"x":{"field":"s","type":"quantitative","scale":{"domain":[20,40],"nice":false,"zero":false},"axis":{"values":[20,21,22,23,24,25,26,27,28,29,30,31,32,33,34,35,36,37,38,39,40],"labelExpr":"datum.value % 10 == 0 ? datum.value + 'k' : ''","title":null,"domain":false,"grid":false,"tickSize":5,"tickColor":"#777","labelPadding":1,"labelFontSize":13,"labelOverlap":false,"labelFlush":false,"labelBound":false}},"x2":{"field":"e"},"y":{"datum":50,"type":"quantitative","scale":{"domain":[50,107.58],"nice":false,"zero":false},"axis":{"orient":"right","values":[50,100],"labelExpr":"datum.value + '%'","title":null,"domain":false,"grid":false,"tickSize":5,"tickColor":"#888","labelPadding":2,"labelFontSize":13,"labelBaseline":"middle","labelOffset":{"condition":{"test":"datum.value == 100","value":4.5},"value":-1}}},"y2":{"datum":100},"color":{"field":"t","type":"nominal","scale":{"domain":["exon","intron"],"range":["#8080f4","#ffff80"]},"title":null}}},
{"data":{"name":"red"},"transform":[{"filter":"datum.r==2 && datum.k=='CS'"}],"mark":{"type":"rect","color":"#f03c1e"},"encoding":{"x":{"field":"s","type":"quantitative","scale":{"domain":[20,40],"nice":false,"zero":false},"axis":null},"x2":{"field":"e"},"y":{"field":"v","type":"quantitative","scale":{"domain":[50,107.58],"nice":false,"zero":false},"axis":{"orient":"left","title":"CS","titleAngle":0,"titleAlign":"right","titleBaseline":"middle","titleX":-4,"titleY":26,"labels":false,"ticks":false,"domain":false,"grid":false}},"y2":{"datum":100}}},
{"data":{"name":"trk"},"transform":[{"filter":"datum.r==2"}],"mark":{"type":"rule","color":"#000","strokeWidth":1.5},"encoding":{"x":{"field":"s","type":"quantitative","scale":{"domain":[20,40],"nice":false,"zero":false},"axis":null},"x2":{"field":"e"},"y":{"datum":99.3,"type":"quantitative","scale":{"domain":[50,107.58],"nice":false,"zero":false},"axis":null}}}
],"resolve":{"axis":{"x":"independent","y":"independent"}}},

{"width":702,"height":59,"layer":[
{"data":{"name":"arr"},"transform":[{"filter":"datum.r==3"}],"mark":{"type":"rule","strokeWidth":1.6,"color":"#000"},"encoding":{"x":{"field":"s","type":"quantitative","scale":{"domain":[40,60],"nice":false,"zero":false},"axis":null},"x2":{"field":"e"},"y":{"datum":0,"type":"quantitative","scale":{"domain":[-0.6667,4.25],"nice":false,"zero":false},"axis":{"orient":"left","title":"GA","titleAngle":0,"titleAlign":"right","titleBaseline":"middle","titleX":-4,"titleY":51,"labels":false,"ticks":false,"domain":false,"grid":false}}}},
{"data":{"name":"arr"},"transform":[{"filter":"datum.r==3 && datum.d=='L'"}],"mark":{"type":"point","shape":"triangle-left","filled":true,"color":"#000","size":42,"opacity":1},"encoding":{"x":{"field":"s","type":"quantitative","scale":{"domain":[40,60],"nice":false,"zero":false},"axis":null},"y":{"datum":0,"type":"quantitative","scale":{"domain":[-0.6667,4.25],"nice":false,"zero":false},"axis":null}}},
{"data":{"name":"arr"},"transform":[{"filter":"datum.r==3 && datum.d=='R'"}],"mark":{"type":"point","shape":"triangle-right","filled":true,"color":"#000","size":42,"opacity":1},"encoding":{"x":{"field":"e","type":"quantitative","scale":{"domain":[40,60],"nice":false,"zero":false},"axis":null},"y":{"datum":0,"type":"quantitative","scale":{"domain":[-0.6667,4.25],"nice":false,"zero":false},"axis":null}}},
{"data":{"name":"lab"},"transform":[{"filter":"datum.r==3 && datum.p==''"}],"mark":{"type":"text","fontSize":13,"dy":2.4},"encoding":{"x":{"field":"x","type":"quantitative","scale":{"domain":[40,60],"nice":false,"zero":false},"axis":null},"y":{"field":"t","type":"quantitative","scale":{"domain":[-0.6667,4.25],"nice":false,"zero":false},"axis":null},"text":{"field":"n"}}},
{"data":{"name":"lab"},"transform":[{"filter":"datum.r==3 && datum.p!=''"}],"mark":{"type":"text","fontSize":13,"dy":2.4,"align":"right"},"encoding":{"x":{"field":"x","type":"quantitative","scale":{"domain":[40,60],"nice":false,"zero":false},"axis":null},"y":{"field":"t","type":"quantitative","scale":{"domain":[-0.6667,4.25],"nice":false,"zero":false},"axis":null},"text":{"field":"n"}}},
{"data":{"name":"lab"},"transform":[{"filter":"datum.r==3 && datum.p!=''"}],"mark":{"type":"text","fontSize":8,"dy":-2.3,"dx":0.5,"align":"left"},"encoding":{"x":{"field":"x","type":"quantitative","scale":{"domain":[40,60],"nice":false,"zero":false},"axis":null},"y":{"field":"t","type":"quantitative","scale":{"domain":[-0.6667,4.25],"nice":false,"zero":false},"axis":null},"text":{"field":"p"}}}
],"resolve":{"axis":{"x":"independent","y":"independent"}}},
{"width":702,"height":31,"layer":[
{"data":{"name":"blk"},"transform":[{"filter":"datum.r==3"}],"mark":{"type":"rect"},"encoding":{"x":{"field":"s","type":"quantitative","scale":{"domain":[40,60],"nice":false,"zero":false},"axis":null},"x2":{"field":"e"},"y":{"datum":50,"type":"quantitative","scale":{"domain":[50,100],"nice":false,"zero":false},"axis":{"orient":"right","values":[50,100],"labelExpr":"datum.value + '%'","title":null,"domain":false,"grid":false,"tickSize":5,"tickColor":"#888","labelPadding":2,"labelFontSize":13,"labelBaseline":"alphabetic","labelOffset":{"condition":{"test":"datum.value == 50","value":2.5},"value":0.5}}},"y2":{"datum":100},"color":{"field":"t","type":"nominal","scale":{"domain":["exon","intron"],"range":["#8080f4","#ffff80"]},"title":null}}},
{"data":{"name":"red"},"transform":[{"filter":"datum.r==3 && datum.k=='DL'"}],"mark":{"type":"rect","color":"#f03c1e"},"encoding":{"x":{"field":"s","type":"quantitative","scale":{"domain":[40,60],"nice":false,"zero":false},"axis":null},"x2":{"field":"e"},"y":{"field":"v","type":"quantitative","scale":{"domain":[50,100],"nice":false,"zero":false},"axis":{"orient":"left","title":"DL","titleAngle":0,"titleAlign":"right","titleBaseline":"middle","titleX":-4,"titleY":20,"labels":false,"ticks":false,"domain":false,"grid":false}},"y2":{"datum":100}}},
{"data":{"name":"trk"},"transform":[{"filter":"datum.r==3"}],"mark":{"type":"rule","color":"#000","strokeWidth":1.5},"encoding":{"x":{"field":"s","type":"quantitative","scale":{"domain":[40,60],"nice":false,"zero":false},"axis":null},"x2":{"field":"e"},"y":{"datum":99.3,"type":"quantitative","scale":{"domain":[50,100],"nice":false,"zero":false},"axis":null}}}
],"resolve":{"axis":{"x":"independent","y":"independent"}}},
{"width":702,"height":38,"layer":[
{"data":{"name":"blk"},"transform":[{"filter":"datum.r==3"}],"mark":{"type":"rect"},"encoding":{"x":{"field":"s","type":"quantitative","scale":{"domain":[40,60],"nice":false,"zero":false},"axis":{"values":[40,41,42,43,44,45,46,47,48,49,50,51,52,53,54,55,56,57,58,59,60],"labelExpr":"datum.value % 10 == 0 ? datum.value + 'k' : ''","title":null,"domain":false,"grid":false,"tickSize":5,"tickColor":"#777","labelPadding":1,"labelFontSize":13,"labelOverlap":false,"labelFlush":false,"labelBound":false}},"x2":{"field":"e"},"y":{"datum":50,"type":"quantitative","scale":{"domain":[50,107.58],"nice":false,"zero":false},"axis":{"orient":"right","values":[50,100],"labelExpr":"datum.value + '%'","title":null,"domain":false,"grid":false,"tickSize":5,"tickColor":"#888","labelPadding":2,"labelFontSize":13,"labelBaseline":"middle","labelOffset":{"condition":{"test":"datum.value == 100","value":4.5},"value":-1}}},"y2":{"datum":100},"color":{"field":"t","type":"nominal","scale":{"domain":["exon","intron"],"range":["#8080f4","#ffff80"]},"title":null}}},
{"data":{"name":"red"},"transform":[{"filter":"datum.r==3 && datum.k=='CS'"}],"mark":{"type":"rect","color":"#f03c1e"},"encoding":{"x":{"field":"s","type":"quantitative","scale":{"domain":[40,60],"nice":false,"zero":false},"axis":null},"x2":{"field":"e"},"y":{"field":"v","type":"quantitative","scale":{"domain":[50,107.58],"nice":false,"zero":false},"axis":{"orient":"left","title":"CS","titleAngle":0,"titleAlign":"right","titleBaseline":"middle","titleX":-4,"titleY":26,"labels":false,"ticks":false,"domain":false,"grid":false}},"y2":{"datum":100}}},
{"data":{"name":"trk"},"transform":[{"filter":"datum.r==3"}],"mark":{"type":"rule","color":"#000","strokeWidth":1.5},"encoding":{"x":{"field":"s","type":"quantitative","scale":{"domain":[40,60],"nice":false,"zero":false},"axis":null},"x2":{"field":"e"},"y":{"datum":99.3,"type":"quantitative","scale":{"domain":[50,107.58],"nice":false,"zero":false},"axis":null}}}
],"resolve":{"axis":{"x":"independent","y":"independent"}}},

{"width":702,"height":59,"layer":[
{"data":{"name":"arr"},"transform":[{"filter":"datum.r==4"}],"mark":{"type":"rule","strokeWidth":1.6,"color":"#000"},"encoding":{"x":{"field":"s","type":"quantitative","scale":{"domain":[60,80],"nice":false,"zero":false},"axis":null},"x2":{"field":"e"},"y":{"datum":0,"type":"quantitative","scale":{"domain":[-0.6667,4.25],"nice":false,"zero":false},"axis":{"orient":"left","title":"GA","titleAngle":0,"titleAlign":"right","titleBaseline":"middle","titleX":-4,"titleY":51,"labels":false,"ticks":false,"domain":false,"grid":false}}}},
{"data":{"name":"arr"},"transform":[{"filter":"datum.r==4 && datum.d=='L'"}],"mark":{"type":"point","shape":"triangle-left","filled":true,"color":"#000","size":42,"opacity":1},"encoding":{"x":{"field":"s","type":"quantitative","scale":{"domain":[60,80],"nice":false,"zero":false},"axis":null},"y":{"datum":0,"type":"quantitative","scale":{"domain":[-0.6667,4.25],"nice":false,"zero":false},"axis":null}}},
{"data":{"name":"arr"},"transform":[{"filter":"datum.r==4 && datum.d=='R'"}],"mark":{"type":"point","shape":"triangle-right","filled":true,"color":"#000","size":42,"opacity":1},"encoding":{"x":{"field":"e","type":"quantitative","scale":{"domain":[60,80],"nice":false,"zero":false},"axis":null},"y":{"datum":0,"type":"quantitative","scale":{"domain":[-0.6667,4.25],"nice":false,"zero":false},"axis":null}}},
{"data":{"name":"lab"},"transform":[{"filter":"datum.r==4 && datum.p==''"}],"mark":{"type":"text","fontSize":13,"dy":2.4},"encoding":{"x":{"field":"x","type":"quantitative","scale":{"domain":[60,80],"nice":false,"zero":false},"axis":null},"y":{"field":"t","type":"quantitative","scale":{"domain":[-0.6667,4.25],"nice":false,"zero":false},"axis":null},"text":{"field":"n"}}},
{"data":{"name":"lab"},"transform":[{"filter":"datum.r==4 && datum.p!=''"}],"mark":{"type":"text","fontSize":13,"dy":2.4,"align":"right"},"encoding":{"x":{"field":"x","type":"quantitative","scale":{"domain":[60,80],"nice":false,"zero":false},"axis":null},"y":{"field":"t","type":"quantitative","scale":{"domain":[-0.6667,4.25],"nice":false,"zero":false},"axis":null},"text":{"field":"n"}}},
{"data":{"name":"lab"},"transform":[{"filter":"datum.r==4 && datum.p!=''"}],"mark":{"type":"text","fontSize":8,"dy":-2.3,"dx":0.5,"align":"left"},"encoding":{"x":{"field":"x","type":"quantitative","scale":{"domain":[60,80],"nice":false,"zero":false},"axis":null},"y":{"field":"t","type":"quantitative","scale":{"domain":[-0.6667,4.25],"nice":false,"zero":false},"axis":null},"text":{"field":"p"}}}
],"resolve":{"axis":{"x":"independent","y":"independent"}}},
{"width":702,"height":31,"layer":[
{"data":{"name":"blk"},"transform":[{"filter":"datum.r==4"}],"mark":{"type":"rect"},"encoding":{"x":{"field":"s","type":"quantitative","scale":{"domain":[60,80],"nice":false,"zero":false},"axis":null},"x2":{"field":"e"},"y":{"datum":50,"type":"quantitative","scale":{"domain":[50,100],"nice":false,"zero":false},"axis":{"orient":"right","values":[50,100],"labelExpr":"datum.value + '%'","title":null,"domain":false,"grid":false,"tickSize":5,"tickColor":"#888","labelPadding":2,"labelFontSize":13,"labelBaseline":"alphabetic","labelOffset":{"condition":{"test":"datum.value == 50","value":2.5},"value":0.5}}},"y2":{"datum":100},"color":{"field":"t","type":"nominal","scale":{"domain":["exon","intron"],"range":["#8080f4","#ffff80"]},"title":null}}},
{"data":{"name":"red"},"transform":[{"filter":"datum.r==4 && datum.k=='DL'"}],"mark":{"type":"rect","color":"#f03c1e"},"encoding":{"x":{"field":"s","type":"quantitative","scale":{"domain":[60,80],"nice":false,"zero":false},"axis":null},"x2":{"field":"e"},"y":{"field":"v","type":"quantitative","scale":{"domain":[50,100],"nice":false,"zero":false},"axis":{"orient":"left","title":"DL","titleAngle":0,"titleAlign":"right","titleBaseline":"middle","titleX":-4,"titleY":20,"labels":false,"ticks":false,"domain":false,"grid":false}},"y2":{"datum":100}}},
{"data":{"name":"trk"},"transform":[{"filter":"datum.r==4"}],"mark":{"type":"rule","color":"#000","strokeWidth":1.5},"encoding":{"x":{"field":"s","type":"quantitative","scale":{"domain":[60,80],"nice":false,"zero":false},"axis":null},"x2":{"field":"e"},"y":{"datum":99.3,"type":"quantitative","scale":{"domain":[50,100],"nice":false,"zero":false},"axis":null}}}
],"resolve":{"axis":{"x":"independent","y":"independent"}}},
{"width":702,"height":38,"layer":[
{"data":{"name":"blk"},"transform":[{"filter":"datum.r==4"}],"mark":{"type":"rect"},"encoding":{"x":{"field":"s","type":"quantitative","scale":{"domain":[60,80],"nice":false,"zero":false},"axis":{"values":[60,61,62,63,64,65,66,67,68,69,70,71,72,73,74,75,76,77,78,79,80],"labelExpr":"datum.value % 10 == 0 ? datum.value + 'k' : ''","title":null,"domain":false,"grid":false,"tickSize":5,"tickColor":"#777","labelPadding":1,"labelFontSize":13,"labelOverlap":false,"labelFlush":false,"labelBound":false}},"x2":{"field":"e"},"y":{"datum":50,"type":"quantitative","scale":{"domain":[50,107.58],"nice":false,"zero":false},"axis":{"orient":"right","values":[50,100],"labelExpr":"datum.value + '%'","title":null,"domain":false,"grid":false,"tickSize":5,"tickColor":"#888","labelPadding":2,"labelFontSize":13,"labelBaseline":"middle","labelOffset":{"condition":{"test":"datum.value == 100","value":4.5},"value":-1}}},"y2":{"datum":100},"color":{"field":"t","type":"nominal","scale":{"domain":["exon","intron"],"range":["#8080f4","#ffff80"]},"title":null}}},
{"data":{"name":"red"},"transform":[{"filter":"datum.r==4 && datum.k=='CS'"}],"mark":{"type":"rect","color":"#f03c1e"},"encoding":{"x":{"field":"s","type":"quantitative","scale":{"domain":[60,80],"nice":false,"zero":false},"axis":null},"x2":{"field":"e"},"y":{"field":"v","type":"quantitative","scale":{"domain":[50,107.58],"nice":false,"zero":false},"axis":{"orient":"left","title":"CS","titleAngle":0,"titleAlign":"right","titleBaseline":"middle","titleX":-4,"titleY":26,"labels":false,"ticks":false,"domain":false,"grid":false}},"y2":{"datum":100}}},
{"data":{"name":"trk"},"transform":[{"filter":"datum.r==4"}],"mark":{"type":"rule","color":"#000","strokeWidth":1.5},"encoding":{"x":{"field":"s","type":"quantitative","scale":{"domain":[60,80],"nice":false,"zero":false},"axis":null},"x2":{"field":"e"},"y":{"datum":99.3,"type":"quantitative","scale":{"domain":[50,107.58],"nice":false,"zero":false},"axis":null}}}
],"resolve":{"axis":{"x":"independent","y":"independent"}}},

{"width":702,"height":59,"layer":[
{"data":{"name":"arr"},"transform":[{"filter":"datum.r==5"}],"mark":{"type":"rule","strokeWidth":1.6,"color":"#000"},"encoding":{"x":{"field":"s","type":"quantitative","scale":{"domain":[80,100],"nice":false,"zero":false},"axis":null},"x2":{"field":"e"},"y":{"datum":0,"type":"quantitative","scale":{"domain":[-0.6667,4.25],"nice":false,"zero":false},"axis":{"orient":"left","title":"GA","titleAngle":0,"titleAlign":"right","titleBaseline":"middle","titleX":-4,"titleY":51,"labels":false,"ticks":false,"domain":false,"grid":false}}}},
{"data":{"name":"arr"},"transform":[{"filter":"datum.r==5 && datum.d=='L'"}],"mark":{"type":"point","shape":"triangle-left","filled":true,"color":"#000","size":42,"opacity":1},"encoding":{"x":{"field":"s","type":"quantitative","scale":{"domain":[80,100],"nice":false,"zero":false},"axis":null},"y":{"datum":0,"type":"quantitative","scale":{"domain":[-0.6667,4.25],"nice":false,"zero":false},"axis":null}}},
{"data":{"name":"arr"},"transform":[{"filter":"datum.r==5 && datum.d=='R'"}],"mark":{"type":"point","shape":"triangle-right","filled":true,"color":"#000","size":42,"opacity":1},"encoding":{"x":{"field":"e","type":"quantitative","scale":{"domain":[80,100],"nice":false,"zero":false},"axis":null},"y":{"datum":0,"type":"quantitative","scale":{"domain":[-0.6667,4.25],"nice":false,"zero":false},"axis":null}}},
{"data":{"name":"lab"},"transform":[{"filter":"datum.r==5 && datum.p==''"}],"mark":{"type":"text","fontSize":13,"dy":2.4},"encoding":{"x":{"field":"x","type":"quantitative","scale":{"domain":[80,100],"nice":false,"zero":false},"axis":null},"y":{"field":"t","type":"quantitative","scale":{"domain":[-0.6667,4.25],"nice":false,"zero":false},"axis":null},"text":{"field":"n"}}},
{"data":{"name":"lab"},"transform":[{"filter":"datum.r==5 && datum.p!=''"}],"mark":{"type":"text","fontSize":13,"dy":2.4,"align":"right"},"encoding":{"x":{"field":"x","type":"quantitative","scale":{"domain":[80,100],"nice":false,"zero":false},"axis":null},"y":{"field":"t","type":"quantitative","scale":{"domain":[-0.6667,4.25],"nice":false,"zero":false},"axis":null},"text":{"field":"n"}}},
{"data":{"name":"lab"},"transform":[{"filter":"datum.r==5 && datum.p!=''"}],"mark":{"type":"text","fontSize":8,"dy":-2.3,"dx":0.5,"align":"left"},"encoding":{"x":{"field":"x","type":"quantitative","scale":{"domain":[80,100],"nice":false,"zero":false},"axis":null},"y":{"field":"t","type":"quantitative","scale":{"domain":[-0.6667,4.25],"nice":false,"zero":false},"axis":null},"text":{"field":"p"}}}
],"resolve":{"axis":{"x":"independent","y":"independent"}}},
{"width":702,"height":31,"layer":[
{"data":{"name":"blk"},"transform":[{"filter":"datum.r==5"}],"mark":{"type":"rect"},"encoding":{"x":{"field":"s","type":"quantitative","scale":{"domain":[80,100],"nice":false,"zero":false},"axis":null},"x2":{"field":"e"},"y":{"datum":50,"type":"quantitative","scale":{"domain":[50,100],"nice":false,"zero":false},"axis":{"orient":"right","values":[50,100],"labelExpr":"datum.value + '%'","title":null,"domain":false,"grid":false,"tickSize":5,"tickColor":"#888","labelPadding":2,"labelFontSize":13,"labelBaseline":"alphabetic","labelOffset":{"condition":{"test":"datum.value == 50","value":2.5},"value":0.5}}},"y2":{"datum":100},"color":{"field":"t","type":"nominal","scale":{"domain":["exon","intron"],"range":["#8080f4","#ffff80"]},"title":null}}},
{"data":{"name":"red"},"transform":[{"filter":"datum.r==5 && datum.k=='DL'"}],"mark":{"type":"rect","color":"#f03c1e"},"encoding":{"x":{"field":"s","type":"quantitative","scale":{"domain":[80,100],"nice":false,"zero":false},"axis":null},"x2":{"field":"e"},"y":{"field":"v","type":"quantitative","scale":{"domain":[50,100],"nice":false,"zero":false},"axis":{"orient":"left","title":"DL","titleAngle":0,"titleAlign":"right","titleBaseline":"middle","titleX":-4,"titleY":20,"labels":false,"ticks":false,"domain":false,"grid":false}},"y2":{"datum":100}}},
{"data":{"name":"trk"},"transform":[{"filter":"datum.r==5"}],"mark":{"type":"rule","color":"#000","strokeWidth":1.5},"encoding":{"x":{"field":"s","type":"quantitative","scale":{"domain":[80,100],"nice":false,"zero":false},"axis":null},"x2":{"field":"e"},"y":{"datum":99.3,"type":"quantitative","scale":{"domain":[50,100],"nice":false,"zero":false},"axis":null}}}
],"resolve":{"axis":{"x":"independent","y":"independent"}}},
{"width":702,"height":38,"layer":[
{"data":{"name":"blk"},"transform":[{"filter":"datum.r==5"}],"mark":{"type":"rect"},"encoding":{"x":{"field":"s","type":"quantitative","scale":{"domain":[80,100],"nice":false,"zero":false},"axis":{"values":[80,81,82,83,84,85,86,87,88,89,90,91,92,93,94,95,96,97,98,99,100],"labelExpr":"datum.value % 10 == 0 ? datum.value + 'k' : ''","title":null,"domain":false,"grid":false,"tickSize":5,"tickColor":"#777","labelPadding":1,"labelFontSize":13,"labelOverlap":false,"labelFlush":false,"labelBound":false}},"x2":{"field":"e"},"y":{"datum":50,"type":"quantitative","scale":{"domain":[50,107.58],"nice":false,"zero":false},"axis":{"orient":"right","values":[50,100],"labelExpr":"datum.value + '%'","title":null,"domain":false,"grid":false,"tickSize":5,"tickColor":"#888","labelPadding":2,"labelFontSize":13,"labelBaseline":"middle","labelOffset":{"condition":{"test":"datum.value == 100","value":4.5},"value":-1}}},"y2":{"datum":100},"color":{"field":"t","type":"nominal","scale":{"domain":["exon","intron"],"range":["#8080f4","#ffff80"]},"title":null}}},
{"data":{"name":"red"},"transform":[{"filter":"datum.r==5 && datum.k=='CS'"}],"mark":{"type":"rect","color":"#f03c1e"},"encoding":{"x":{"field":"s","type":"quantitative","scale":{"domain":[80,100],"nice":false,"zero":false},"axis":null},"x2":{"field":"e"},"y":{"field":"v","type":"quantitative","scale":{"domain":[50,107.58],"nice":false,"zero":false},"axis":{"orient":"left","title":"CS","titleAngle":0,"titleAlign":"right","titleBaseline":"middle","titleX":-4,"titleY":26,"labels":false,"ticks":false,"domain":false,"grid":false}},"y2":{"datum":100}}},
{"data":{"name":"trk"},"transform":[{"filter":"datum.r==5"}],"mark":{"type":"rule","color":"#000","strokeWidth":1.5},"encoding":{"x":{"field":"s","type":"quantitative","scale":{"domain":[80,100],"nice":false,"zero":false},"axis":null},"x2":{"field":"e"},"y":{"datum":99.3,"type":"quantitative","scale":{"domain":[50,107.58],"nice":false,"zero":false},"axis":null}}},
{"data":{"name":"ir"},"transform":[{"filter":"datum.r==5"}],"mark":{"type":"rule","color":"#000","strokeWidth":5,"strokeCap":"butt"},"encoding":{"x":{"field":"s","type":"quantitative","scale":{"domain":[80,100],"nice":false,"zero":false},"axis":null},"x2":{"field":"e"},"y":{"datum":46.3,"type":"quantitative","scale":{"domain":[50,107.58],"nice":false,"zero":false},"axis":null}}}
],"resolve":{"axis":{"x":"independent","y":"independent"}}},

{"width":540,"height":59,"layer":[
{"data":{"name":"arr"},"transform":[{"filter":"datum.r==6"}],"mark":{"type":"rule","strokeWidth":1.6,"color":"#000"},"encoding":{"x":{"field":"s","type":"quantitative","scale":{"domain":[100,115.38],"nice":false,"zero":false},"axis":null},"x2":{"field":"e"},"y":{"datum":0,"type":"quantitative","scale":{"domain":[-0.6667,4.25],"nice":false,"zero":false},"axis":{"orient":"left","title":"GA","titleAngle":0,"titleAlign":"right","titleBaseline":"middle","titleX":-4,"titleY":51,"labels":false,"ticks":false,"domain":false,"grid":false}}}},
{"data":{"name":"arr"},"transform":[{"filter":"datum.r==6 && datum.d=='L'"}],"mark":{"type":"point","shape":"triangle-left","filled":true,"color":"#000","size":42,"opacity":1},"encoding":{"x":{"field":"s","type":"quantitative","scale":{"domain":[100,115.38],"nice":false,"zero":false},"axis":null},"y":{"datum":0,"type":"quantitative","scale":{"domain":[-0.6667,4.25],"nice":false,"zero":false},"axis":null}}},
{"data":{"name":"arr"},"transform":[{"filter":"datum.r==6 && datum.d=='R'"}],"mark":{"type":"point","shape":"triangle-right","filled":true,"color":"#000","size":42,"opacity":1},"encoding":{"x":{"field":"e","type":"quantitative","scale":{"domain":[100,115.38],"nice":false,"zero":false},"axis":null},"y":{"datum":0,"type":"quantitative","scale":{"domain":[-0.6667,4.25],"nice":false,"zero":false},"axis":null}}},
{"data":{"name":"lab"},"transform":[{"filter":"datum.r==6 && datum.p==''"}],"mark":{"type":"text","fontSize":13,"dy":2.4},"encoding":{"x":{"field":"x","type":"quantitative","scale":{"domain":[100,115.38],"nice":false,"zero":false},"axis":null},"y":{"field":"t","type":"quantitative","scale":{"domain":[-0.6667,4.25],"nice":false,"zero":false},"axis":null},"text":{"field":"n"}}},
{"data":{"name":"lab"},"transform":[{"filter":"datum.r==6 && datum.p!=''"}],"mark":{"type":"text","fontSize":13,"dy":2.4,"align":"right"},"encoding":{"x":{"field":"x","type":"quantitative","scale":{"domain":[100,115.38],"nice":false,"zero":false},"axis":null},"y":{"field":"t","type":"quantitative","scale":{"domain":[-0.6667,4.25],"nice":false,"zero":false},"axis":null},"text":{"field":"n"}}},
{"data":{"name":"lab"},"transform":[{"filter":"datum.r==6 && datum.p!=''"}],"mark":{"type":"text","fontSize":8,"dy":-2.3,"dx":0.5,"align":"left"},"encoding":{"x":{"field":"x","type":"quantitative","scale":{"domain":[100,115.38],"nice":false,"zero":false},"axis":null},"y":{"field":"t","type":"quantitative","scale":{"domain":[-0.6667,4.25],"nice":false,"zero":false},"axis":null},"text":{"field":"p"}}}
],"resolve":{"axis":{"x":"independent","y":"independent"}}},
{"width":540,"height":31,"layer":[
{"data":{"name":"blk"},"transform":[{"filter":"datum.r==6"}],"mark":{"type":"rect"},"encoding":{"x":{"field":"s","type":"quantitative","scale":{"domain":[100,115.38],"nice":false,"zero":false},"axis":null},"x2":{"field":"e"},"y":{"datum":50,"type":"quantitative","scale":{"domain":[50,100],"nice":false,"zero":false},"axis":{"orient":"right","values":[50,100],"labelExpr":"datum.value + '%'","title":null,"domain":false,"grid":false,"tickSize":5,"tickColor":"#888","labelPadding":2,"labelFontSize":13,"labelBaseline":"alphabetic","labelOffset":{"condition":{"test":"datum.value == 50","value":2.5},"value":0.5}}},"y2":{"datum":100},"color":{"field":"t","type":"nominal","scale":{"domain":["exon","intron"],"range":["#8080f4","#ffff80"]},"title":null}}},
{"data":{"name":"red"},"transform":[{"filter":"datum.r==6 && datum.k=='DL'"}],"mark":{"type":"rect","color":"#f03c1e"},"encoding":{"x":{"field":"s","type":"quantitative","scale":{"domain":[100,115.38],"nice":false,"zero":false},"axis":null},"x2":{"field":"e"},"y":{"field":"v","type":"quantitative","scale":{"domain":[50,100],"nice":false,"zero":false},"axis":{"orient":"left","title":"DL","titleAngle":0,"titleAlign":"right","titleBaseline":"middle","titleX":-4,"titleY":20,"labels":false,"ticks":false,"domain":false,"grid":false}},"y2":{"datum":100}}},
{"data":{"name":"trk"},"transform":[{"filter":"datum.r==6"}],"mark":{"type":"rule","color":"#000","strokeWidth":1.5},"encoding":{"x":{"field":"s","type":"quantitative","scale":{"domain":[100,115.38],"nice":false,"zero":false},"axis":null},"x2":{"field":"e"},"y":{"datum":99.3,"type":"quantitative","scale":{"domain":[50,100],"nice":false,"zero":false},"axis":null}}}
],"resolve":{"axis":{"x":"independent","y":"independent"}}},
{"width":540,"height":38,"layer":[
{"data":{"name":"blk"},"transform":[{"filter":"datum.r==6"}],"mark":{"type":"rect"},"encoding":{"x":{"field":"s","type":"quantitative","scale":{"domain":[100,115.38],"nice":false,"zero":false},"axis":{"values":[100,101,102,103,104,105,106,107,108,109,110,111,112,113,114,115],"labelExpr":"datum.value % 10 == 0 ? datum.value + 'k' : ''","title":null,"domain":false,"grid":false,"tickSize":5,"tickColor":"#777","labelPadding":1,"labelFontSize":13,"labelOverlap":false,"labelFlush":false,"labelBound":false}},"x2":{"field":"e"},"y":{"datum":50,"type":"quantitative","scale":{"domain":[50,107.58],"nice":false,"zero":false},"axis":{"orient":"right","values":[50,100],"labelExpr":"datum.value + '%'","title":null,"domain":false,"grid":false,"tickSize":5,"tickColor":"#888","labelPadding":2,"labelFontSize":13,"labelBaseline":"middle","labelOffset":{"condition":{"test":"datum.value == 100","value":4.5},"value":-1}}},"y2":{"datum":100},"color":{"field":"t","type":"nominal","scale":{"domain":["exon","intron"],"range":["#8080f4","#ffff80"]},"title":null,"legend":{"orient":"none","legendX":586,"legendY":724,"symbolType":"square","symbolSize":169,"symbolStrokeWidth":0,"labelFontSize":14,"labelOffset":3,"rowPadding":3,"padding":0}}}},
{"data":{"name":"red"},"transform":[{"filter":"datum.r==6 && datum.k=='CS'"}],"mark":{"type":"rect","color":"#f03c1e"},"encoding":{"x":{"field":"s","type":"quantitative","scale":{"domain":[100,115.38],"nice":false,"zero":false},"axis":null},"x2":{"field":"e"},"y":{"field":"v","type":"quantitative","scale":{"domain":[50,107.58],"nice":false,"zero":false},"axis":{"orient":"left","title":"CS","titleAngle":0,"titleAlign":"right","titleBaseline":"middle","titleX":-4,"titleY":26,"labels":false,"ticks":false,"domain":false,"grid":false}},"y2":{"datum":100}}},
{"data":{"name":"trk"},"transform":[{"filter":"datum.r==6"}],"mark":{"type":"rule","color":"#000","strokeWidth":1.5},"encoding":{"x":{"field":"s","type":"quantitative","scale":{"domain":[100,115.38],"nice":false,"zero":false},"axis":null},"x2":{"field":"e"},"y":{"datum":99.3,"type":"quantitative","scale":{"domain":[50,107.58],"nice":false,"zero":false},"axis":null}}},
{"data":{"name":"ir"},"transform":[{"filter":"datum.r==6"}],"mark":{"type":"rule","color":"#000","strokeWidth":5,"strokeCap":"butt"},"encoding":{"x":{"field":"s","type":"quantitative","scale":{"domain":[100,115.38],"nice":false,"zero":false},"axis":null},"x2":{"field":"e"},"y":{"datum":46.3,"type":"quantitative","scale":{"domain":[50,107.58],"nice":false,"zero":false},"axis":null}}}
],"resolve":{"axis":{"x":"independent","y":"independent"}}}
]
}
